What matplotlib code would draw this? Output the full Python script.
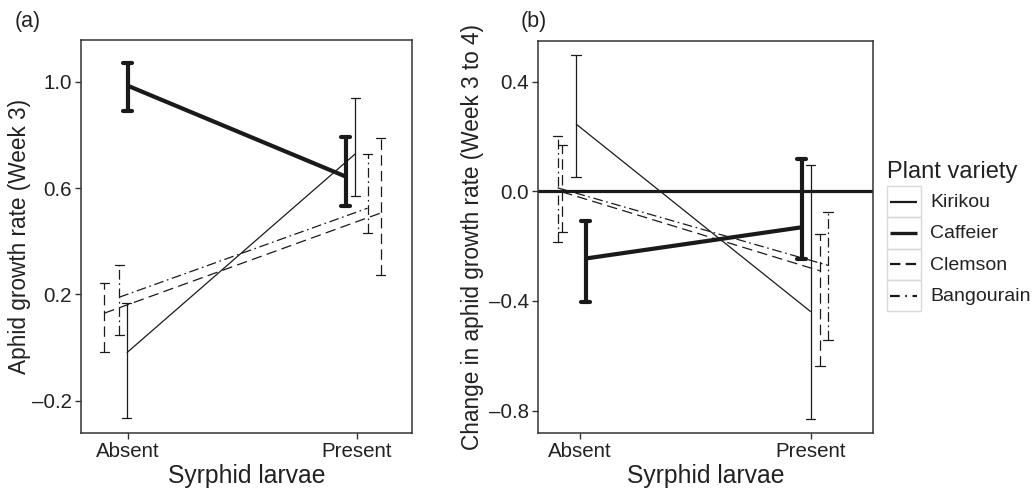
import numpy as np
import matplotlib
matplotlib.use("Agg")
import matplotlib.pyplot as plt
from matplotlib.patches import Rectangle
from matplotlib.lines import Line2D

plt.rcParams['font.family'] = ['Liberation Sans', 'DejaVu Sans']
plt.rcParams['lines.scale_dashes'] = False

# donnees
levels = ["Absent", "Present"]
varieties = ["Kirikou", "Caffeier", "Clemson", "Bangourain"]

# (a) taux de croissance semaine 3  [Absent, Present]
wk3_mean = [[-0.020, 0.728], [0.985, 0.643], [0.129, 0.506], [0.189, 0.524]]
wk3_lo   = [[-0.266, 0.571], [0.890, 0.533], [-0.016, 0.274], [0.046, 0.432]]
wk3_hi   = [[0.166, 0.940], [1.071, 0.793], [0.241, 0.790], [0.310, 0.727]]

# (b) variation semaine 3 -> 4
chg_mean = [[0.246, -0.439], [-0.245, -0.131], [-0.002, -0.290], [0.013, -0.270]]
chg_lo   = [[0.053, -0.831], [-0.403, -0.246], [-0.147, -0.636], [-0.186, -0.543]]
chg_hi   = [[0.497, 0.096], [-0.107, 0.117], [0.169, -0.157], [0.203, -0.077]]

# decalages (dodge) horizontaux
dodge_a = [[-0.004, -0.007], [0.0, -0.048], [-0.102, 0.105], [-0.037, 0.047]]
dodge_b = [[-0.017, 0.0], [0.025, -0.039], [-0.077, 0.040], [-0.097, 0.075]]

styles = {
    "Kirikou":    dict(lw=0.9, ls='-'),
    "Caffeier":   dict(lw=3.0, ls='-'),
    "Clemson":    dict(lw=0.9, ls=(0, (7.5, 3.8))),
    "Bangourain": dict(lw=0.9, ls=(0, (7.0, 2.6, 1.2, 2.6))),
}
ink = '#1a1a1a'
txt = '#222222'

W, H = 1033, 496
fig = plt.figure(figsize=(W/100, H/100), dpi=100)

ax_a = fig.add_axes([81/W, 1-433/H, 330.5/W, 393/H])
ax_b = fig.add_axes([537.7/W, 1-433/H, 335.3/W, 392/H])


def panel(ax, mean, lo, hi, dodge, xlim, ylim, yticks, ylabel, cap=0.04, ypad=1):
    ax.set_xlim(*xlim)
    ax.set_ylim(*ylim)
    for i, v in enumerate(varieties):
        st = styles[v]
        x = np.array([1, 2]) + np.array(dodge[i])
        m = np.array(mean[i])
        ax.plot(x, m, color=ink, lw=st['lw'], ls=st['ls'], solid_capstyle='butt', zorder=3)
        ax.vlines(x, lo[i], hi[i], colors=ink, lw=st['lw'], linestyles=[st['ls']], zorder=3)
        for y in (lo[i], hi[i]):
            ax.hlines(y, x - cap/2, x + cap/2, colors=ink, lw=st['lw'], zorder=3,
                      capstyle='round')
    ax.set_xticks([1, 2])
    ax.set_xticklabels(levels)
    ax.set_yticks(yticks)
    ax.set_yticklabels(['%.1f' % t if t >= 0 else '\u2013%.1f' % -t for t in yticks])
    ax.tick_params(length=4, width=1, color='#333333', labelsize=14.8, labelcolor=txt, pad=2.5)
    for s in ax.spines.values():
        s.set_color('#333333')
        s.set_linewidth(1.1)
    ax.set_xlabel("Syrphid larvae", fontsize=17.8, color=txt, labelpad=2)
    ax.set_ylabel(ylabel, fontsize=16.3, color=txt, labelpad=ypad)


panel(ax_a, wk3_mean, wk3_lo, wk3_hi, dodge_a, (0.796, 2.239), (-0.322, 1.157),
      [-0.2, 0.2, 0.6, 1.0], "Aphid growth rate (Week 3)", ypad=0.5)
panel(ax_b, chg_mean, chg_lo, chg_hi, dodge_b, (0.817, 2.27), (-0.882, 0.549),
      [-0.8, -0.4, 0.0, 0.4], "Change in aphid growth rate (Week 3 to 4)", ypad=3)
ax_b.axhline(0, color=ink, lw=2.3, zorder=2)

fig.text(15/W, 1-21/H, "(a)", fontsize=15.5, color=txt, va='center', ha='left')
fig.text(521/W, 1-21/H, "(b)", fontsize=15.5, color=txt, va='center', ha='left')

# legende dessinee a la main (cases grises facon ggplot)
lg = fig.add_axes([0, 0, 1, 1])
lg.set_xlim(0, W)
lg.set_ylim(H, 0)
lg.axis('off')
lg.text(887, 172, "Plant variety", fontsize=17, color=txt, va='center', ha='left')
row_h = 31.3
top = 186
for i, v in enumerate(varieties):
    st = styles[v]
    y0 = top + i*row_h
    lg.add_patch(Rectangle((887, y0), 33.5, row_h, fill=False, ec='#d9d9d9', lw=1))
    lg.add_line(Line2D([890, 917], [y0 + row_h/2]*2, color=ink,
                       lw={"Kirikou": 1.6, "Caffeier": 2.4}.get(v, 1.6),
                       ls=st['ls'] if v != "Bangourain" else (0, (7.0, 4.0, 1.2, 4.0)),
                       solid_capstyle='butt'))
    lg.text(930, y0 + row_h/2 + 1, v, fontsize=14, color=txt, va='center', ha='left')

fig.savefig("out.png", dpi=100)
